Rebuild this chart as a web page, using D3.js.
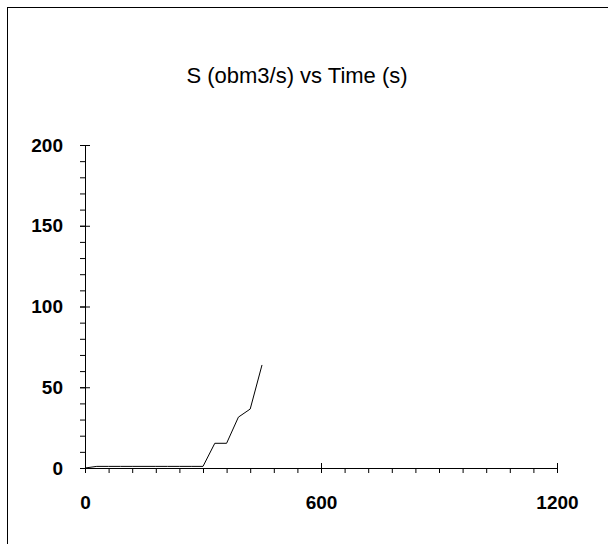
<!DOCTYPE html>
<html>
<head>
<meta charset="utf-8">
<script src="https://cdn.jsdelivr.net/npm/d3@7"></script>
<style>
  body { margin: 0; background: #fff; }
  svg { display: block; font-family: "Liberation Sans", Arial, sans-serif; }
</style>
</head>
<body>
<div id="chart"></div>
<script>
const width = 608, height = 544;
const margin = { left: 85, right: 51, top: 145, bottom: 76 };
const innerWidth = width - margin.left - margin.right;
const innerHeight = height - margin.top - margin.bottom;

const title = "S (obm3/s) vs Time (s)";
const timeValues = [0, 30, 60, 90, 120, 150, 180, 210, 240, 270, 300, 330, 360, 390, 420, 450];
const sValues = [0, 1, 1, 1, 1, 1, 1, 1, 1, 1, 1, 15.3, 15.3, 31.5, 36.5, 63.8];
const xMajorTicks = [0, 600, 1200];
const xMinorTicks = d3.range(0, 1201, 60);
const yMajorTicks = [0, 50, 100, 150, 200];
const yMinorTicks = d3.range(0, 201, 10);

const data = timeValues.map((t, i) => ({ t: t, s: sValues[i] }));

const svg = d3.select("#chart").append("svg")
    .attr("width", width)
    .attr("height", height)
    .attr("viewBox", [0, 0, width, height]);

// frame
svg.append("rect")
    .attr("x", 7.5).attr("y", 7.5)
    .attr("width", width).attr("height", height)
    .attr("fill", "none")
    .attr("stroke", "#000");

svg.append("text")
    .attr("x", 297).attr("y", 83)
    .attr("text-anchor", "middle")
    .attr("font-size", 22)
    .text(title);

const innerChart = svg.append("g")
    .attr("transform", `translate(${margin.left}, ${margin.top})`);

const xScale = d3.scaleLinear().domain([0, 1200]).range([0, innerWidth]);
const yScale = d3.scaleLinear().domain([0, 200]).range([innerHeight, 0]);

// x axis: minor ticks below, major ticks crossing
const xAxisG = innerChart.append("g").attr("transform", `translate(0, ${innerHeight})`);
xAxisG.append("g")
    .call(d3.axisBottom(xScale).tickValues(xMinorTicks).tickSize(5).tickSizeOuter(0).tickFormat(""));
xAxisG.append("g")
    .call(d3.axisTop(xScale).tickValues(xMajorTicks).tickSize(5).tickSizeOuter(0).tickFormat(""));
xAxisG.append("g")
    .call(d3.axisBottom(xScale).tickValues(xMajorTicks).tickSize(5).tickSizeOuter(0)
        .tickPadding(23).tickFormat(d3.format("d")))
    .call(g => g.selectAll("text").attr("font-size", 19).attr("font-weight", "bold").attr("fill", "#000"));

// y axis: minor ticks left, major ticks crossing
const yAxisG = innerChart.append("g");
yAxisG.append("g")
    .call(d3.axisLeft(yScale).tickValues(yMinorTicks).tickSize(5).tickSizeOuter(0).tickFormat(""));
yAxisG.append("g")
    .call(d3.axisRight(yScale).tickValues(yMajorTicks).tickSize(5).tickSizeOuter(0).tickFormat(""));
yAxisG.append("g")
    .call(d3.axisLeft(yScale).tickValues(yMajorTicks).tickSize(5).tickSizeOuter(0)
        .tickPadding(17).tickFormat(d3.format("d")))
    .call(g => g.selectAll("text").attr("font-size", 19).attr("font-weight", "bold").attr("fill", "#000"));

innerChart.selectAll(".domain").attr("stroke", "#000");
innerChart.selectAll(".tick line").attr("stroke", "#000");

const lineGenerator = d3.line()
    .x(d => xScale(d.t))
    .y(d => yScale(d.s));

innerChart.append("path")
    .datum(data)
    .attr("d", lineGenerator)
    .attr("fill", "none")
    .attr("stroke", "#000")
    .attr("stroke-width", 1);
</script>
</body>
</html>
